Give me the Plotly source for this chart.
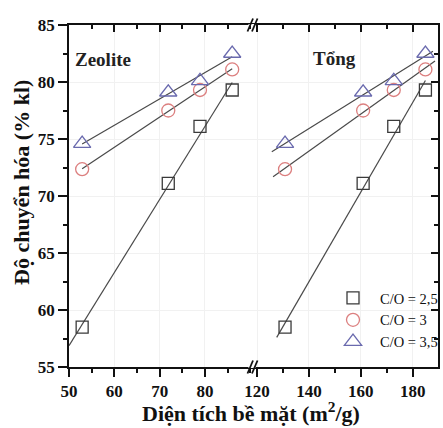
import numpy as np
import plotly.graph_objects as go

# ---- data -------------------------------------------------------------
series_names = ["C/O = 2,5", "C/O = 3", "C/O = 3,5"]
area_zeolite = [52.9, 71.9, 78.9, 86.0]      # m2/g, zeolite surface
area_total = [130.8, 160.9, 172.7, 184.9]     # m2/g, total surface
conv_co25 = [58.5, 71.1, 76.1, 79.3]          # % kl
conv_co3 = [72.35, 77.5, 79.3, 81.1]
conv_co35 = [74.6, 79.1, 80.1, 82.5]
conversions = [conv_co25, conv_co3, conv_co35]

# x-extent of each fitted line (left panel / right panel)
fit_span_zeolite = [(50.0, 86.0), (52.9, 86.0), (52.9, 86.0)]
fit_span_total = [(127.6, 184.9), (126.2, 188.6), (125.7, 187.8)]

left_ticks = [50, 60, 70, 80]
right_ticks = [120, 140, 160, 180]
y_ticks = [55, 60, 65, 70, 75, 80, 85]

# ---- style ------------------------------------------------------------
W, H = 443, 428
ML, MR, MT, MB = 69, 5, 25, 61
PW, PH = W - ML - MR, H - MT - MB
SPLIT_PX = 252                       # pixel column of the axis break
split = (SPLIT_PX - ML) / PW

symbols = ["square-open", "circle-open", "triangle-up-open"]
sizes = [12, 13, 15]
colors = ["#3a3a3a", "#dc7f7f", "#6a6aae"]
line_color = "#4a4a4a"
SERIF = "Liberation Serif"


def px_to_paper(px, py):
    return (px - ML) / PW, 1 - (py - MT) / PH


fig = go.Figure()

for i, conv in enumerate(conversions):
    # fitted straight lines
    for xs, span, xa in ((area_zeolite, fit_span_zeolite[i], "x"),
                         (area_total, fit_span_total[i], "x2")):
        k, b = np.polyfit(xs, conv, 1)
        fx = np.array(span)
        fig.add_trace(go.Scatter(
            x=fx, y=k * fx + b, mode="lines", xaxis=xa, yaxis="y",
            line=dict(color=line_color, width=1.2), showlegend=False,
            hoverinfo="skip"))

for i, conv in enumerate(conversions):
    fig.add_trace(go.Scatter(
        x=area_zeolite, y=conv, mode="markers", xaxis="x", yaxis="y",
        name=series_names[i],
        marker=dict(symbol=symbols[i], size=sizes[i], color=colors[i],
                    line=dict(width=1.3, color=colors[i]))))
    fig.add_trace(go.Scatter(
        x=area_total, y=conv, mode="markers", xaxis="x2", yaxis="y",
        name=series_names[i], showlegend=False,
        marker=dict(symbol=symbols[i], size=sizes[i], color=colors[i],
                    line=dict(width=1.3, color=colors[i]))))

tick_font = dict(family=SERIF, size=17, color="#111", weight=700)
axis_line = dict(showline=True, linecolor="#111", linewidth=1.5)
grid = dict(showgrid=True, gridcolor="#f1f1f1", gridwidth=1, zeroline=False)

left_range = [50, 50 + (SPLIT_PX - ML) / 4.533]
right_range = [118.07, 118.07 + (ML + PW - SPLIT_PX) / 2.595]

fig.update_layout(
    width=W, height=H,
    margin=dict(l=ML, r=MR, t=MT, b=MB, autoexpand=False),
    paper_bgcolor="white", plot_bgcolor="white",
    xaxis=dict(domain=[0, split], range=left_range, anchor="y",
               tickvals=left_ticks, ticks="outside", ticklen=8, tickwidth=1.5,
               tickcolor="#111", minor=dict(dtick=5, tick0=50, ticks="outside",
                                            ticklen=4, tickwidth=1.5,
                                            tickcolor="#111", showgrid=False),
               tickfont=tick_font, **axis_line, **grid),
    xaxis2=dict(domain=[split, 1], range=right_range, anchor="y",
                tickvals=right_ticks, ticks="outside", ticklen=8, tickwidth=1.5,
                tickcolor="#111", minor=dict(dtick=10, tick0=110, ticks="outside",
                                             ticklen=4, tickwidth=1.5,
                                             tickcolor="#111", showgrid=False),
                tickfont=tick_font, **axis_line, **grid),
    xaxis3=dict(overlaying="x", side="top", range=left_range, anchor="y",
                tickvals=left_ticks, ticks="inside", ticklen=7, tickwidth=1.5,
                tickcolor="#111", showticklabels=False, showgrid=False,
                minor=dict(dtick=5, tick0=50, ticks="inside", ticklen=4,
                           tickwidth=1.5, tickcolor="#111"),
                **axis_line),
    xaxis4=dict(overlaying="x2", side="top", range=right_range, anchor="y",
                tickvals=right_ticks, ticks="inside", ticklen=7, tickwidth=1.5,
                tickcolor="#111", showticklabels=False, showgrid=False,
                minor=dict(dtick=10, tick0=110, ticks="inside", ticklen=4,
                           tickwidth=1.5, tickcolor="#111"),
                **axis_line),
    yaxis=dict(domain=[0, 1], range=[55, 85], anchor="x", tickvals=y_ticks,
               ticks="outside", ticklen=9, tickwidth=1.5, tickcolor="#111",
               minor=dict(dtick=2.5, tick0=55, ticks="outside", ticklen=4,
                          tickwidth=1.5, tickcolor="#111", showgrid=False),
               tickfont=tick_font, **axis_line, **grid),
    yaxis2=dict(overlaying="y", side="right", anchor="x2", range=[55, 85],
                tickvals=y_ticks, ticks="inside", ticklen=7, tickwidth=1.5,
                tickcolor="#111", showticklabels=False, showgrid=False,
                minor=dict(dtick=2.5, tick0=55, ticks="inside", ticklen=4,
                           tickwidth=1.5, tickcolor="#111"),
                **axis_line),
    legend=dict(x=(326 - ML) / PW, y=px_to_paper(0, 282)[1],
                xanchor="left", yanchor="top", bgcolor="rgba(0,0,0,0)",
                itemwidth=44, font=dict(family=SERIF, size=14.5, color="#111")),
    showlegend=True,
)

# empty traces so the overlay axes are rendered
fig.add_trace(go.Scatter(x=[None], y=[None], xaxis="x3", yaxis="y",
                         showlegend=False, hoverinfo="skip"))
fig.add_trace(go.Scatter(x=[None], y=[None], xaxis="x4", yaxis="y2",
                         showlegend=False, hoverinfo="skip"))

# axis titles and panel labels
yt_x, yt_y = px_to_paper(21, 183)
xt_x, xt_y = px_to_paper(251, 412)
fig.add_annotation(text="Độ chuyển hóa (% kl)", xref="paper", yref="paper",
                   x=yt_x, y=yt_y, textangle=-90, showarrow=False,
                   xanchor="center", yanchor="middle",
                   font=dict(family=SERIF, size=22, color="#111", weight=700))
fig.add_annotation(text="Diện tích bề mặt (m<sup>2</sup>/g)", xref="paper",
                   yref="paper", x=xt_x, y=xt_y, showarrow=False,
                   xanchor="center", yanchor="middle",
                   font=dict(family=SERIF, size=22, color="#111", weight=700))
fig.add_annotation(text="Zeolite", xref="x", yref="y", x=57.6, y=82.0,
                   showarrow=False,
                   font=dict(family=SERIF, size=19, color="#222", weight=700))
fig.add_annotation(text="Tổng", xref="x2", yref="y", x=149.7, y=82.1,
                   showarrow=False,
                   font=dict(family=SERIF, size=19, color="#222", weight=700))

# axis-break marks on the top and bottom frame lines
for py in (MT, MT + PH):
    x0, y0 = px_to_paper(248.5, py - 1)
    x1, y1 = px_to_paper(255.5, py + 1)
    fig.add_shape(type="rect", xref="paper", yref="paper",
                  x0=x0, x1=x1, y0=y0, y1=y1,
                  fillcolor="white", line=dict(width=0), layer="above")
    for dx in (0, 4.5):
        a = px_to_paper(247.5 + dx, py + 6.5)
        b = px_to_paper(253 + dx, py - 6.5)
        fig.add_shape(type="line", xref="paper", yref="paper",
                      x0=a[0], y0=a[1], x1=b[0], y1=b[1],
                      line=dict(color="#111", width=1.8), layer="above")

fig.write_html("out.html")
